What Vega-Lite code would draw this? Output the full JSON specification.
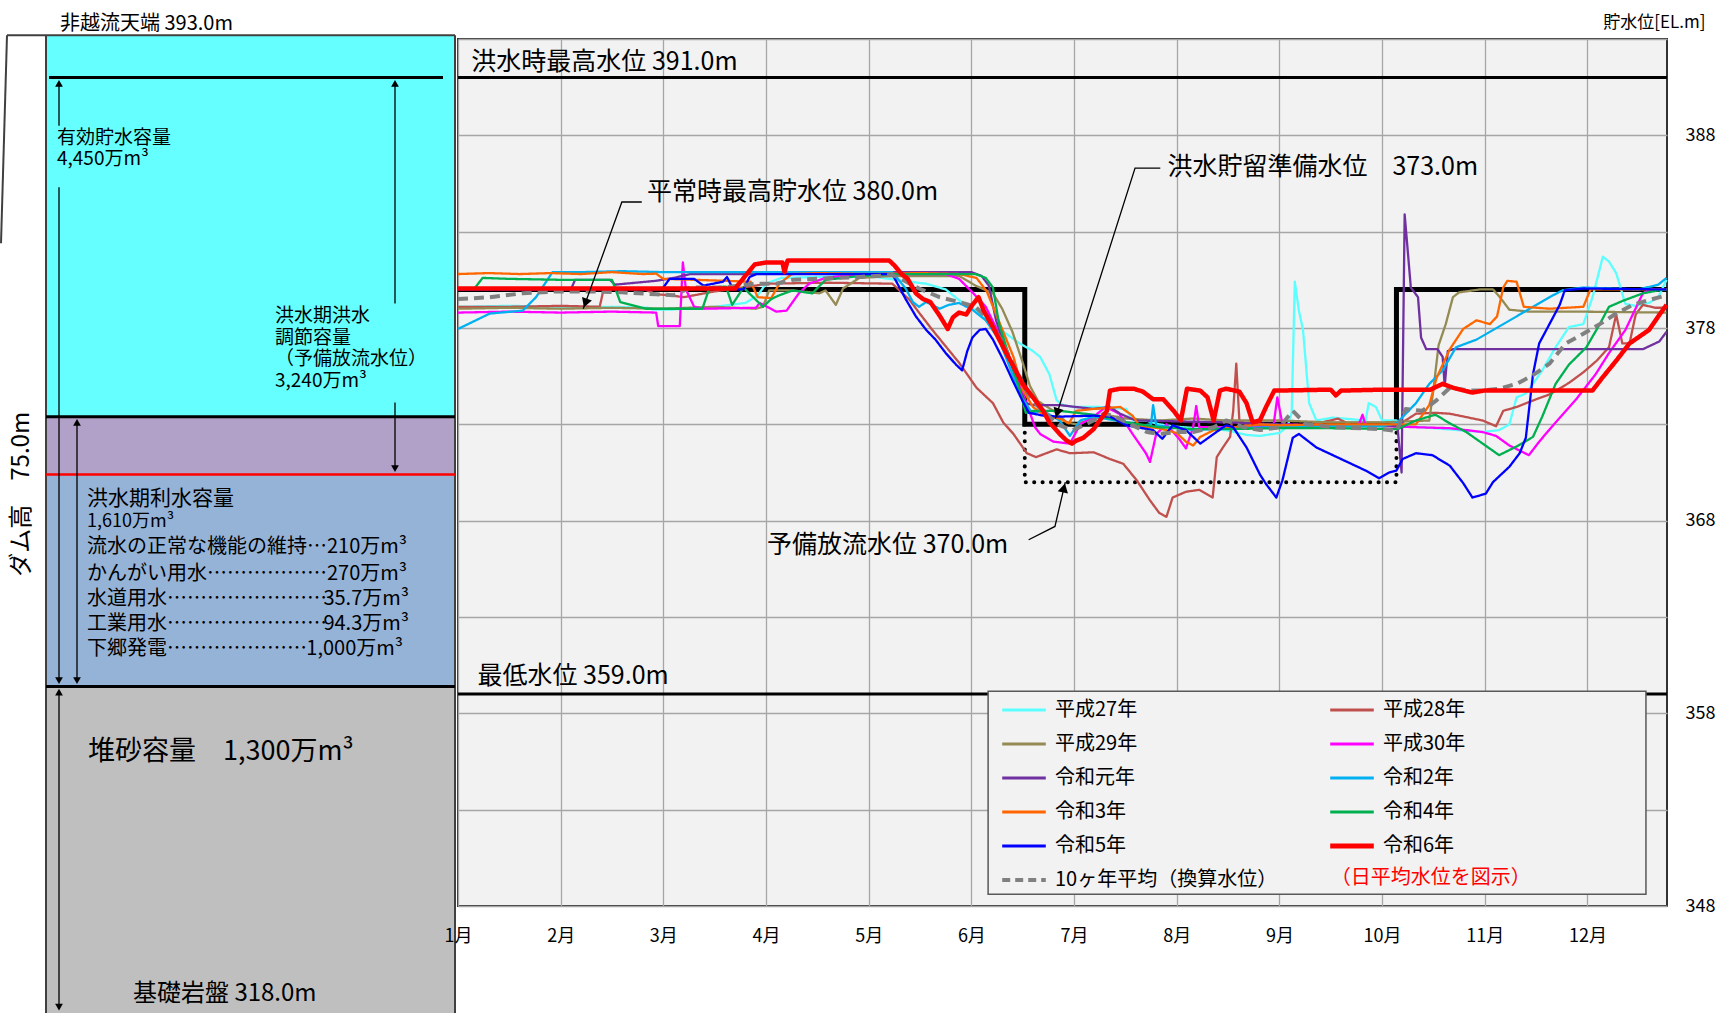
{
 "$schema": "https://vega.github.io/schema/vega-lite/v6.json",
 "background": "white",
 "padding": {"left": 0, "top": 12, "right": 0, "bottom": 0},
 "bounds": "flush",
 "spacing": 0,
 "resolve": {"scale": {"color": "independent"}, "legend": {"color": "independent"}},
 "config": {
  "font": "Noto Sans CJK JP",
  "view": {"stroke": null},
  "text": {"font": "Noto Sans CJK JP", "color": "#000000"}
 },
 "datasets": {
  "wl": [
   {"s":"平成27年","m":1,"v":379.1},{"s":"平成27年","m":1.5,"v":379.15},{"s":"平成27年","m":2,"v":379.1},{"s":"平成27年","m":2.5,"v":379.1},{"s":"平成27年","m":2.85,"v":379.05},{"s":"平成27年","m":2.9,"v":378.95},{"s":"平成27年","m":3.05,"v":378.95},{"s":"平成27年","m":3.2,"v":379},{"s":"平成27年","m":3.5,"v":379.1},{"s":"平成27年","m":3.8,"v":379.3},{"s":"平成27年","m":3.92,"v":379.7},{"s":"平成27年","m":4,"v":380.3},{"s":"平成27年","m":4.15,"v":380.6},{"s":"平成27年","m":4.5,"v":380.65},{"s":"平成27年","m":5,"v":380.7},{"s":"平成27年","m":5.4,"v":380.4},{"s":"平成27年","m":5.56,"v":380.3},{"s":"平成27年","m":5.75,"v":380},{"s":"平成27年","m":5.88,"v":379.45},{"s":"平成27年","m":6.08,"v":378.8},{"s":"平成27年","m":6.21,"v":378.2},{"s":"平成27年","m":6.34,"v":377.7},{"s":"平成27年","m":6.47,"v":377.2},{"s":"平成27年","m":6.6,"v":376.8},{"s":"平成27年","m":6.67,"v":376.5},{"s":"平成27年","m":6.76,"v":375.6},{"s":"平成27年","m":6.83,"v":374.25},{"s":"平成27年","m":6.89,"v":374},{"s":"平成27年","m":6.99,"v":373.9},{"s":"平成27年","m":7.25,"v":373.9},{"s":"平成27年","m":7.51,"v":373.8},{"s":"平成27年","m":7.57,"v":373.2},{"s":"平成27年","m":7.7,"v":373.2},{"s":"平成27年","m":7.83,"v":373},{"s":"平成27年","m":7.96,"v":372.9},{"s":"平成27年","m":8.16,"v":372.8},{"s":"平成27年","m":8.48,"v":372.7},{"s":"平成27年","m":8.68,"v":372.45},{"s":"平成27年","m":8.81,"v":372.4},{"s":"平成27年","m":9,"v":372.55},{"s":"平成27年","m":9.08,"v":372.9},{"s":"平成27年","m":9.12,"v":373.6},{"s":"平成27年","m":9.15,"v":380.4},{"s":"平成27年","m":9.19,"v":378.9},{"s":"平成27年","m":9.23,"v":377.9},{"s":"平成27年","m":9.29,"v":374.1},{"s":"平成27年","m":9.36,"v":373.2},{"s":"平成27年","m":9.52,"v":373.35},{"s":"平成27年","m":9.84,"v":373.2},{"s":"平成27年","m":9.87,"v":374.1},{"s":"平成27年","m":9.94,"v":373.9},{"s":"平成27年","m":10,"v":373.2},{"s":"平成27年","m":10.14,"v":373.2},{"s":"平成27年","m":10.23,"v":372.9},{"s":"平成27年","m":10.5,"v":372.8},{"s":"平成27年","m":10.98,"v":372.6},{"s":"平成27年","m":11.14,"v":372.7},{"s":"平成27年","m":11.24,"v":373},{"s":"平成27年","m":11.31,"v":374.4},{"s":"平成27年","m":11.4,"v":374.6},{"s":"平成27年","m":11.47,"v":375.1},{"s":"平成27年","m":11.56,"v":375.8},{"s":"平成27年","m":11.69,"v":377},{"s":"平成27年","m":11.82,"v":378.05},{"s":"平成27年","m":11.96,"v":378.2},{"s":"平成27年","m":12.05,"v":379.6},{"s":"平成27年","m":12.15,"v":381.7},{"s":"平成27年","m":12.21,"v":381.45},{"s":"平成27年","m":12.28,"v":380.85},{"s":"平成27年","m":12.37,"v":379.25},{"s":"平成27年","m":12.47,"v":379.15},{"s":"平成27年","m":12.6,"v":379.3},{"s":"平成27年","m":12.69,"v":379.6},{"s":"平成27年","m":12.77,"v":380.5},

   {"s":"平成28年","m":1,"v":379.1},{"s":"平成28年","m":1.5,"v":379.1},{"s":"平成28年","m":2,"v":379.15},{"s":"平成28年","m":2.38,"v":379.1},{"s":"平成28年","m":2.42,"v":380.05},{"s":"平成28年","m":2.8,"v":380.05},{"s":"平成28年","m":2.93,"v":379.75},{"s":"平成28年","m":3.06,"v":379.7},{"s":"平成28年","m":3.2,"v":379.6},{"s":"平成28年","m":3.5,"v":379.9},{"s":"平成28年","m":3.9,"v":380.2},{"s":"平成28年","m":4,"v":380.3},{"s":"平成28年","m":4.6,"v":380.35},{"s":"平成28年","m":5.23,"v":380.3},{"s":"平成28年","m":5.3,"v":379.95},{"s":"平成28年","m":5.4,"v":379.45},{"s":"平成28年","m":5.49,"v":378.8},{"s":"平成28年","m":5.62,"v":377.9},{"s":"平成28年","m":5.75,"v":377.05},{"s":"平成28年","m":5.88,"v":376.2},{"s":"平成28年","m":6.05,"v":374.9},{"s":"平成28年","m":6.21,"v":374.1},{"s":"平成28年","m":6.31,"v":373.1},{"s":"平成28年","m":6.41,"v":372.5},{"s":"平成28年","m":6.54,"v":371.5},{"s":"平成28年","m":6.63,"v":371.3},{"s":"平成28年","m":6.73,"v":371.5},{"s":"平成28年","m":6.83,"v":371.7},{"s":"平成28年","m":6.96,"v":371.5},{"s":"平成28年","m":7.19,"v":371.55},{"s":"平成28年","m":7.35,"v":371.2},{"s":"平成28年","m":7.48,"v":370.95},{"s":"平成28年","m":7.61,"v":370.1},{"s":"平成28年","m":7.74,"v":369.05},{"s":"平成28年","m":7.83,"v":368.4},{"s":"平成28年","m":7.9,"v":368.2},{"s":"平成28年","m":7.96,"v":369.2},{"s":"平成28年","m":8.09,"v":369.5},{"s":"平成28年","m":8.22,"v":369.6},{"s":"平成28年","m":8.35,"v":369.2},{"s":"平成28年","m":8.39,"v":371.3},{"s":"平成28年","m":8.45,"v":371.8},{"s":"平成28年","m":8.52,"v":372.35},{"s":"平成28年","m":8.55,"v":373.7},{"s":"平成28年","m":8.58,"v":376.15},{"s":"平成28年","m":8.61,"v":373.2},{"s":"平成28年","m":8.68,"v":372.95},{"s":"平成28年","m":9,"v":372.9},{"s":"平成28年","m":9.3,"v":372.95},{"s":"平成28年","m":9.57,"v":373.3},{"s":"平成28年","m":9.7,"v":372.95},{"s":"平成28年","m":10.14,"v":372.9},{"s":"平成28年","m":10.33,"v":373.55},{"s":"平成28年","m":10.52,"v":373.6},{"s":"平成28年","m":10.66,"v":373.55},{"s":"平成28年","m":10.98,"v":373.2},{"s":"平成28年","m":11.11,"v":372.9},{"s":"平成28年","m":11.18,"v":373.7},{"s":"平成28年","m":11.31,"v":373.9},{"s":"平成28年","m":11.5,"v":374.3},{"s":"平成28年","m":11.63,"v":374.55},{"s":"平成28年","m":11.82,"v":375.15},{"s":"平成28年","m":11.96,"v":375.7},{"s":"平成28年","m":12.09,"v":376.3},{"s":"平成28年","m":12.21,"v":377},{"s":"平成28年","m":12.28,"v":378.7},{"s":"平成28年","m":12.34,"v":377.2},{"s":"平成28年","m":12.41,"v":377.2},{"s":"平成28年","m":12.47,"v":378.7},{"s":"平成28年","m":12.54,"v":379.2},{"s":"平成28年","m":12.66,"v":379.05},{"s":"平成28年","m":12.77,"v":379.05},

   {"s":"平成29年","m":1,"v":379},{"s":"平成29年","m":1.5,"v":379.05},{"s":"平成29年","m":2,"v":379},{"s":"平成29年","m":2.5,"v":379.05},{"s":"平成29年","m":3,"v":379},{"s":"平成29年","m":3.5,"v":379.1},{"s":"平成29年","m":3.9,"v":379},{"s":"平成29年","m":3.97,"v":379.1},{"s":"平成29年","m":4.03,"v":379.95},{"s":"平成29年","m":4.26,"v":379.95},{"s":"平成29年","m":4.52,"v":379.8},{"s":"平成29年","m":4.58,"v":379.95},{"s":"平成29年","m":4.68,"v":379.2},{"s":"平成29年","m":4.75,"v":380.05},{"s":"平成29年","m":4.91,"v":380.6},{"s":"平成29年","m":5.23,"v":380.7},{"s":"平成29年","m":5.88,"v":380.7},{"s":"平成29年","m":6.04,"v":380.2},{"s":"平成29年","m":6.21,"v":379.8},{"s":"平成29年","m":6.3,"v":379},{"s":"平成29年","m":6.4,"v":377.8},{"s":"平成29年","m":6.5,"v":376.2},{"s":"平成29年","m":6.57,"v":375},{"s":"平成29年","m":6.65,"v":374.2},{"s":"平成29年","m":6.8,"v":373.7},{"s":"平成29年","m":6.93,"v":373.1},{"s":"平成29年","m":7.02,"v":373},{"s":"平成29年","m":7.19,"v":373.3},{"s":"平成29年","m":7.35,"v":373.45},{"s":"平成29年","m":7.51,"v":373.3},{"s":"平成29年","m":7.83,"v":373.2},{"s":"平成29年","m":8.16,"v":373.3},{"s":"平成29年","m":8.48,"v":373.2},{"s":"平成29年","m":9,"v":373.2},{"s":"平成29年","m":9.5,"v":373.1},{"s":"平成29年","m":10,"v":373.1},{"s":"平成29年","m":10.46,"v":373.2},{"s":"平成29年","m":10.5,"v":374.8},{"s":"平成29年","m":10.55,"v":377.1},{"s":"平成29年","m":10.62,"v":378.2},{"s":"平成29年","m":10.69,"v":379.6},{"s":"平成29年","m":10.75,"v":379.85},{"s":"平成29年","m":10.95,"v":380},{"s":"平成29年","m":11.08,"v":380},{"s":"平成29年","m":11.14,"v":379.65},{"s":"平成29年","m":11.24,"v":378.95},{"s":"平成29年","m":11.43,"v":378.85},{"s":"平成29年","m":11.92,"v":378.85},{"s":"平成29年","m":12.77,"v":378.8},

   {"s":"平成30年","m":1,"v":378.8},{"s":"平成30年","m":1.5,"v":378.85},{"s":"平成30年","m":2,"v":378.8},{"s":"平成30年","m":2.5,"v":378.85},{"s":"平成30年","m":2.93,"v":378.8},{"s":"平成30年","m":2.95,"v":378.1},{"s":"平成30年","m":3.16,"v":378.1},{"s":"平成30年","m":3.19,"v":381.4},{"s":"平成30年","m":3.22,"v":380},{"s":"平成30年","m":3.3,"v":379.1},{"s":"平成30年","m":3.4,"v":379},{"s":"平成30年","m":3.9,"v":379.05},{"s":"平成30年","m":3.94,"v":379.3},{"s":"平成30年","m":4.1,"v":378.85},{"s":"平成30年","m":4.2,"v":378.9},{"s":"平成30年","m":4.32,"v":379.8},{"s":"平成30年","m":4.42,"v":380.3},{"s":"平成30年","m":4.58,"v":380.6},{"s":"平成30年","m":4.9,"v":380.8},{"s":"平成30年","m":5.75,"v":380.8},{"s":"平成30年","m":5.88,"v":380.55},{"s":"平成30年","m":6.01,"v":379.85},{"s":"平成30年","m":6.14,"v":379.1},{"s":"平成30年","m":6.27,"v":377.7},{"s":"平成30年","m":6.4,"v":376},{"s":"平成30年","m":6.53,"v":374.2},{"s":"平成30年","m":6.62,"v":372.85},{"s":"平成30年","m":6.67,"v":372.5},{"s":"平成30年","m":6.8,"v":372.1},{"s":"平成30年","m":6.96,"v":372},{"s":"平成30年","m":7.06,"v":373},{"s":"平成30年","m":7.19,"v":373.4},{"s":"平成30年","m":7.31,"v":373.9},{"s":"平成30年","m":7.44,"v":373.55},{"s":"平成30年","m":7.57,"v":372.5},{"s":"平成30年","m":7.7,"v":371.5},{"s":"平成30年","m":7.74,"v":371.05},{"s":"平成30年","m":7.8,"v":372.5},{"s":"平成30年","m":7.9,"v":373},{"s":"平成30年","m":8.03,"v":372.2},{"s":"平成30年","m":8.09,"v":371.75},{"s":"平成30年","m":8.16,"v":372.85},{"s":"平成30年","m":8.19,"v":373.95},{"s":"平成30年","m":8.22,"v":372.85},{"s":"平成30年","m":8.48,"v":372.85},{"s":"平成30年","m":8.94,"v":372.85},{"s":"平成30年","m":8.98,"v":374.4},{"s":"平成30年","m":9.03,"v":373},{"s":"平成30年","m":9.36,"v":372.95},{"s":"平成30年","m":9.77,"v":372.95},{"s":"平成30年","m":9.81,"v":373.5},{"s":"平成30年","m":9.84,"v":372.95},{"s":"平成30年","m":10.33,"v":372.85},{"s":"平成30年","m":10.66,"v":372.8},{"s":"平成30年","m":10.98,"v":372.6},{"s":"平成30年","m":11.11,"v":372.4},{"s":"平成30年","m":11.24,"v":371.9},{"s":"平成30年","m":11.43,"v":371.4},{"s":"平成30年","m":11.53,"v":372.1},{"s":"平成30年","m":11.69,"v":373.1},{"s":"平成30年","m":11.89,"v":374.3},{"s":"平成30年","m":12.08,"v":375.6},{"s":"平成30年","m":12.21,"v":376.7},{"s":"平成30年","m":12.37,"v":377.9},{"s":"平成30年","m":12.54,"v":379.8},{"s":"平成30年","m":12.6,"v":380},{"s":"平成30年","m":12.77,"v":380},

   {"s":"令和元年","m":1,"v":380},{"s":"令和元年","m":2.1,"v":380},{"s":"令和元年","m":2.14,"v":380.5},{"s":"令和元年","m":2.48,"v":380.5},{"s":"令和元年","m":2.53,"v":380.25},{"s":"令和元年","m":2.93,"v":380.45},{"s":"令和元年","m":3.1,"v":380.6},{"s":"令和元年","m":3.26,"v":380.8},{"s":"令和元年","m":3.85,"v":380.8},{"s":"令和元年","m":4.1,"v":380.9},{"s":"令和元年","m":5,"v":380.9},{"s":"令和元年","m":6,"v":380.9},{"s":"令和元年","m":6.1,"v":380.7},{"s":"令和元年","m":6.17,"v":380.2},{"s":"令和元年","m":6.24,"v":378.4},{"s":"令和元年","m":6.37,"v":376.4},{"s":"令和元年","m":6.47,"v":374.8},{"s":"令和元年","m":6.53,"v":374.1},{"s":"令和元年","m":6.6,"v":374},{"s":"令和元年","m":6.86,"v":374},{"s":"令和元年","m":7.02,"v":373.9},{"s":"令和元年","m":7.19,"v":373.8},{"s":"令和元年","m":7.35,"v":373.9},{"s":"令和元年","m":7.45,"v":373.55},{"s":"令和元年","m":7.6,"v":373.2},{"s":"令和元年","m":8.5,"v":373.1},{"s":"令和元年","m":9,"v":373},{"s":"令和元年","m":9.5,"v":372.9},{"s":"令和元年","m":10,"v":372.95},{"s":"令和元年","m":10.15,"v":372.9},{"s":"令和元年","m":10.19,"v":370.5},{"s":"令和元年","m":10.22,"v":383.9},{"s":"令和元年","m":10.28,"v":380.1},{"s":"令和元年","m":10.35,"v":379.6},{"s":"令和元年","m":10.38,"v":377.5},{"s":"令和元年","m":10.43,"v":376.9},{"s":"令和元年","m":10.54,"v":376.9},{"s":"令和元年","m":10.59,"v":376.5},{"s":"令和元年","m":10.61,"v":375},{"s":"令和元年","m":10.64,"v":376.8},{"s":"令和元年","m":10.69,"v":376.9},{"s":"令和元年","m":12.54,"v":376.9},{"s":"令和元年","m":12.7,"v":377.3},{"s":"令和元年","m":12.77,"v":377.8},

   {"s":"令和2年","m":1,"v":377.95},{"s":"令和2年","m":1.31,"v":378.75},{"s":"令和2年","m":1.63,"v":378.9},{"s":"令和2年","m":1.76,"v":379.6},{"s":"令和2年","m":1.92,"v":380.9},{"s":"令和2年","m":2.2,"v":380.9},{"s":"令和2年","m":2.6,"v":380.95},{"s":"令和2年","m":3,"v":380.9},{"s":"令和2年","m":3.5,"v":380.9},{"s":"令和2年","m":4,"v":380.9},{"s":"令和2年","m":5,"v":380.9},{"s":"令和2年","m":5.23,"v":380.9},{"s":"令和2年","m":5.36,"v":380.05},{"s":"令和2年","m":5.43,"v":379.35},{"s":"令和2年","m":5.49,"v":379.1},{"s":"令和2年","m":5.56,"v":379.35},{"s":"令和2年","m":5.69,"v":379},{"s":"令和2年","m":5.78,"v":379.2},{"s":"令和2年","m":5.88,"v":379.3},{"s":"令和2年","m":6.01,"v":378.95},{"s":"令和2年","m":6.14,"v":378.4},{"s":"令和2年","m":6.27,"v":377.4},{"s":"令和2年","m":6.4,"v":375.6},{"s":"令和2年","m":6.49,"v":374.4},{"s":"令和2年","m":6.59,"v":373.6},{"s":"令和2年","m":6.7,"v":373.7},{"s":"令和2年","m":6.86,"v":373.2},{"s":"令和2年","m":6.96,"v":372.4},{"s":"令和2年","m":7.06,"v":373.2},{"s":"令和2年","m":7.19,"v":373.4},{"s":"令和2年","m":7.51,"v":373.1},{"s":"令和2年","m":7.67,"v":372.95},{"s":"令和2年","m":7.75,"v":373},{"s":"令和2年","m":7.77,"v":374},{"s":"令和2年","m":7.8,"v":372.95},{"s":"令和2年","m":8.16,"v":372.7},{"s":"令和2年","m":8.48,"v":372.8},{"s":"令和2年","m":9,"v":372.85},{"s":"令和2年","m":9.5,"v":372.9},{"s":"令和2年","m":10,"v":372.9},{"s":"令和2年","m":10.14,"v":373.05},{"s":"令和2年","m":10.24,"v":373.6},{"s":"令和2年","m":10.33,"v":374.1},{"s":"令和2年","m":10.46,"v":375.1},{"s":"令和2年","m":10.59,"v":375.8},{"s":"令和2年","m":10.72,"v":377},{"s":"令和2年","m":10.92,"v":377.4},{"s":"令和2年","m":11.05,"v":377.8},{"s":"令和2年","m":11.18,"v":378.2},{"s":"令和2年","m":11.31,"v":378.6},{"s":"令和2年","m":11.47,"v":379.1},{"s":"令和2年","m":11.63,"v":379.6},{"s":"令和2年","m":11.76,"v":379.96},{"s":"令和2年","m":11.96,"v":380.1},{"s":"令和2年","m":12.5,"v":380},{"s":"令和2年","m":12.69,"v":380.25},{"s":"令和2年","m":12.77,"v":380.6},

   {"s":"令和3年","m":1,"v":380.8},{"s":"令和3年","m":1.3,"v":380.85},{"s":"令和3年","m":1.6,"v":380.8},{"s":"令和3年","m":1.9,"v":380.85},{"s":"令和3年","m":2.2,"v":380.8},{"s":"令和3年","m":2.5,"v":380.9},{"s":"令和3年","m":2.8,"v":380.8},{"s":"令和3年","m":2.93,"v":380.82},{"s":"令和3年","m":3,"v":380.55},{"s":"令和3年","m":3.3,"v":380.5},{"s":"令和3年","m":3.6,"v":380.45},{"s":"令和3年","m":3.85,"v":380.4},{"s":"令和3年","m":3.92,"v":379.6},{"s":"令和3年","m":4.05,"v":379.55},{"s":"令和3年","m":4.13,"v":380.3},{"s":"令和3年","m":4.25,"v":380.8},{"s":"令和3年","m":4.5,"v":380.85},{"s":"令和3年","m":5,"v":380.8},{"s":"令和3年","m":5.5,"v":380.85},{"s":"令和3年","m":5.88,"v":380.8},{"s":"令和3年","m":6.05,"v":380.6},{"s":"令和3年","m":6.15,"v":379.9},{"s":"令和3年","m":6.28,"v":378.2},{"s":"令和3年","m":6.41,"v":376.5},{"s":"令和3年","m":6.5,"v":374.8},{"s":"令和3年","m":6.6,"v":373.9},{"s":"令和3年","m":6.7,"v":373.5},{"s":"令和3年","m":6.86,"v":373.3},{"s":"令和3年","m":6.95,"v":373.05},{"s":"令和3年","m":7.02,"v":373.7},{"s":"令和3年","m":7.19,"v":373.8},{"s":"令和3年","m":7.45,"v":373.9},{"s":"令和3年","m":7.57,"v":373.45},{"s":"令和3年","m":7.64,"v":372.9},{"s":"令和3年","m":7.83,"v":372.8},{"s":"令和3年","m":8,"v":372.55},{"s":"令和3年","m":8.09,"v":372.1},{"s":"令和3年","m":8.16,"v":371.9},{"s":"令和3年","m":8.23,"v":372.35},{"s":"令和3年","m":8.36,"v":372.7},{"s":"令和3年","m":8.48,"v":372.8},{"s":"令和3年","m":8.81,"v":373},{"s":"令和3年","m":9,"v":372.95},{"s":"令和3年","m":9.5,"v":373},{"s":"令和3年","m":10,"v":373},{"s":"令和3年","m":10.33,"v":373},{"s":"令和3年","m":10.46,"v":374},{"s":"令和3年","m":10.53,"v":375.4},{"s":"令和3年","m":10.66,"v":376.9},{"s":"令和3年","m":10.79,"v":377.95},{"s":"令和3年","m":10.92,"v":378.4},{"s":"令和3年","m":11.05,"v":378.2},{"s":"令和3年","m":11.12,"v":378.6},{"s":"令和3年","m":11.18,"v":380.1},{"s":"令和3年","m":11.22,"v":380.45},{"s":"令和3年","m":11.31,"v":380.4},{"s":"令和3年","m":11.38,"v":379.1},{"s":"令和3年","m":11.63,"v":379},{"s":"令和3年","m":11.96,"v":379.1},{"s":"令和3年","m":12.03,"v":380},{"s":"令和3年","m":12.77,"v":380},

   {"s":"令和4年","m":1,"v":380.05},{"s":"令和4年","m":1.16,"v":380.05},{"s":"令和4年","m":1.24,"v":380.6},{"s":"令和4年","m":1.5,"v":380.55},{"s":"令和4年","m":2,"v":380.5},{"s":"令和4年","m":2.5,"v":380.5},{"s":"令和4年","m":2.58,"v":379.35},{"s":"令和4年","m":2.83,"v":379},{"s":"令和4年","m":3.38,"v":379},{"s":"令和4年","m":3.45,"v":380.1},{"s":"令和4年","m":3.61,"v":380.15},{"s":"令和4年","m":3.67,"v":379.2},{"s":"令和4年","m":3.78,"v":380.1},{"s":"令和4年","m":3.97,"v":379.1},{"s":"令和4年","m":4.05,"v":379.5},{"s":"令和4年","m":4.13,"v":379.7},{"s":"令和4年","m":4.26,"v":379.95},{"s":"令和4年","m":4.45,"v":379.8},{"s":"令和4年","m":4.58,"v":380.5},{"s":"令和4年","m":4.91,"v":380.7},{"s":"令和4年","m":5.23,"v":380.8},{"s":"令和4年","m":6.04,"v":380.8},{"s":"令和4年","m":6.14,"v":380.6},{"s":"令和4年","m":6.21,"v":380.1},{"s":"令和4年","m":6.27,"v":378.2},{"s":"令和4年","m":6.37,"v":376.5},{"s":"令和4年","m":6.47,"v":374.8},{"s":"令和4年","m":6.53,"v":373.6},{"s":"令和4年","m":6.6,"v":373.7},{"s":"令和4年","m":6.86,"v":373.7},{"s":"令和4年","m":7.19,"v":373.5},{"s":"令和4年","m":7.51,"v":373.1},{"s":"令和4年","m":7.83,"v":372.85},{"s":"令和4年","m":8.16,"v":372.75},{"s":"令和4年","m":8.48,"v":372.75},{"s":"令和4年","m":9,"v":372.8},{"s":"令和4年","m":9.5,"v":372.8},{"s":"令和4年","m":10.15,"v":372.75},{"s":"令和4年","m":10.33,"v":373.2},{"s":"令和4年","m":10.52,"v":373.5},{"s":"令和4年","m":10.66,"v":373.05},{"s":"令和4年","m":10.82,"v":372.6},{"s":"令和4年","m":10.98,"v":372},{"s":"令和4年","m":11.14,"v":371.4},{"s":"令和4年","m":11.31,"v":371.85},{"s":"令和4年","m":11.47,"v":372.35},{"s":"令和4年","m":11.56,"v":373.4},{"s":"令和4年","m":11.69,"v":375.1},{"s":"令和4年","m":11.82,"v":376.1},{"s":"令和4年","m":11.99,"v":377},{"s":"令和4年","m":12.12,"v":378.2},{"s":"令和4年","m":12.21,"v":379.1},{"s":"令和4年","m":12.34,"v":379.4},{"s":"令和4年","m":12.54,"v":379.8},{"s":"令和4年","m":12.7,"v":379.96},{"s":"令和4年","m":12.77,"v":380},

   {"s":"令和5年","m":1,"v":380},{"s":"令和5年","m":2.95,"v":380},{"s":"令和5年","m":3,"v":380.1},{"s":"令和5年","m":3.06,"v":380.55},{"s":"令和5年","m":3.3,"v":380.55},{"s":"令和5年","m":3.39,"v":380.2},{"s":"令和5年","m":3.58,"v":380.4},{"s":"令和5年","m":3.62,"v":380.65},{"s":"令和5年","m":3.68,"v":380},{"s":"令和5年","m":3.78,"v":380},{"s":"令和5年","m":3.84,"v":380.65},{"s":"令和5年","m":3.91,"v":380.8},{"s":"令和5年","m":4.5,"v":380.8},{"s":"令和5年","m":5.23,"v":380.8},{"s":"令和5年","m":5.3,"v":380.1},{"s":"令和5年","m":5.36,"v":379.5},{"s":"令和5年","m":5.46,"v":378.6},{"s":"令和5年","m":5.56,"v":377.9},{"s":"令和5年","m":5.65,"v":377.4},{"s":"令和5年","m":5.75,"v":376.7},{"s":"令和5年","m":5.85,"v":376.1},{"s":"令和5年","m":5.91,"v":375.8},{"s":"令和5年","m":5.96,"v":376.8},{"s":"令和5年","m":6.01,"v":377.5},{"s":"令和5年","m":6.08,"v":377.9},{"s":"令和5年","m":6.14,"v":377.95},{"s":"令和5年","m":6.21,"v":377.4},{"s":"令和5年","m":6.31,"v":376.35},{"s":"令和5年","m":6.4,"v":375.3},{"s":"令和5年","m":6.5,"v":374.2},{"s":"令和5年","m":6.56,"v":373.6},{"s":"令和5年","m":6.7,"v":373.45},{"s":"令和5年","m":6.86,"v":373.4},{"s":"令和5年","m":7.19,"v":373.45},{"s":"令和5年","m":7.35,"v":373.4},{"s":"令和5年","m":7.51,"v":372.95},{"s":"令和5年","m":7.77,"v":372.7},{"s":"令和5年","m":7.86,"v":372.25},{"s":"令和5年","m":7.96,"v":372.95},{"s":"令和5年","m":8.09,"v":372.7},{"s":"令和5年","m":8.23,"v":372},{"s":"令和5年","m":8.36,"v":372.5},{"s":"令和5年","m":8.48,"v":372.95},{"s":"令和5年","m":8.55,"v":372.85},{"s":"令和5年","m":8.68,"v":371.8},{"s":"令和5年","m":8.81,"v":370.4},{"s":"令和5年","m":8.87,"v":369.9},{"s":"令和5年","m":8.97,"v":369.2},{"s":"令和5年","m":9.03,"v":370.1},{"s":"令和5年","m":9.13,"v":372.3},{"s":"令和5年","m":9.19,"v":372.5},{"s":"令和5年","m":9.36,"v":371.8},{"s":"令和5年","m":9.52,"v":371.4},{"s":"令和5年","m":9.68,"v":371},{"s":"令和5年","m":9.84,"v":370.6},{"s":"令和5年","m":9.97,"v":370.2},{"s":"令和5年","m":10.07,"v":370.5},{"s":"令和5年","m":10.14,"v":370.6},{"s":"令和5年","m":10.2,"v":371.2},{"s":"令和5年","m":10.33,"v":371.5},{"s":"令和5年","m":10.49,"v":371.4},{"s":"令和5年","m":10.66,"v":370.85},{"s":"令和5年","m":10.79,"v":369.95},{"s":"令和5年","m":10.88,"v":369.2},{"s":"令和5年","m":11.01,"v":369.4},{"s":"令和5年","m":11.08,"v":370},{"s":"令和5年","m":11.24,"v":370.8},{"s":"令和5年","m":11.34,"v":371.5},{"s":"令和5年","m":11.4,"v":372.3},{"s":"令和5年","m":11.47,"v":375.6},{"s":"令和5年","m":11.53,"v":377.2},{"s":"令和5年","m":11.63,"v":378.2},{"s":"令和5年","m":11.73,"v":379.2},{"s":"令和5年","m":11.78,"v":379.96},{"s":"令和5年","m":11.96,"v":380.05},{"s":"令和5年","m":12.77,"v":380},

   {"s":"10ヶ年平均（換算水位）","m":1,"v":379.5},{"s":"10ヶ年平均（換算水位）","m":1.31,"v":379.6},{"s":"10ヶ年平均（換算水位）","m":1.63,"v":379.8},{"s":"10ヶ年平均（換算水位）","m":1.96,"v":379.9},{"s":"10ヶ年平均（換算水位）","m":2.3,"v":379.9},{"s":"10ヶ年平均（換算水位）","m":2.6,"v":379.85},{"s":"10ヶ年平均（換算水位）","m":2.93,"v":379.75},{"s":"10ヶ年平均（換算水位）","m":3.1,"v":379.7},{"s":"10ヶ年平均（換算水位）","m":3.26,"v":380.1},{"s":"10ヶ年平均（換算水位）","m":3.58,"v":380.1},{"s":"10ヶ年平均（換算水位）","m":3.9,"v":380.3},{"s":"10ヶ年平均（換算水位）","m":4.1,"v":380.3},{"s":"10ヶ年平均（換算水位）","m":4.26,"v":380.5},{"s":"10ヶ年平均（換算水位）","m":4.91,"v":380.65},{"s":"10ヶ年平均（換算水位）","m":5.23,"v":380.75},{"s":"10ヶ年平均（換算水位）","m":5.33,"v":380.5},{"s":"10ヶ年平均（換算水位）","m":5.49,"v":380.05},{"s":"10ヶ年平均（換算水位）","m":5.69,"v":379.6},{"s":"10ヶ年平均（換算水位）","m":5.88,"v":379.35},{"s":"10ヶ年平均（換算水位）","m":6.04,"v":379.1},{"s":"10ヶ年平均（換算水位）","m":6.17,"v":378.4},{"s":"10ヶ年平均（換算水位）","m":6.27,"v":377.55},{"s":"10ヶ年平均（換算水位）","m":6.4,"v":376.2},{"s":"10ヶ年平均（換算水位）","m":6.53,"v":374.8},{"s":"10ヶ年平均（換算水位）","m":6.62,"v":374.1},{"s":"10ヶ年平均（換算水位）","m":6.7,"v":373.65},{"s":"10ヶ年平均（換算水位）","m":6.86,"v":372.95},{"s":"10ヶ年平均（換算水位）","m":6.99,"v":372.7},{"s":"10ヶ年平均（換算水位）","m":7.19,"v":373.2},{"s":"10ヶ年平均（換算水位）","m":7.29,"v":373.55},{"s":"10ヶ年平均（換算水位）","m":7.38,"v":373.45},{"s":"10ヶ年平均（換算水位）","m":7.51,"v":373.1},{"s":"10ヶ年平均（換算水位）","m":7.71,"v":372.6},{"s":"10ヶ年平均（換算水位）","m":7.83,"v":372.5},{"s":"10ヶ年平均（換算水位）","m":8,"v":372.6},{"s":"10ヶ年平均（換算水位）","m":8.16,"v":372.6},{"s":"10ヶ年平均（換算水位）","m":8.36,"v":372.85},{"s":"10ヶ年平均（換算水位）","m":8.48,"v":373.2},{"s":"10ヶ年平均（換算水位）","m":8.65,"v":372.85},{"s":"10ヶ年平均（換算水位）","m":8.81,"v":372.7},{"s":"10ヶ年平均（換算水位）","m":9,"v":372.85},{"s":"10ヶ年平均（換算水位）","m":9.13,"v":373.7},{"s":"10ヶ年平均（換算水位）","m":9.26,"v":373},{"s":"10ヶ年平均（換算水位）","m":9.52,"v":372.85},{"s":"10ヶ年平均（換算水位）","m":10,"v":372.75},{"s":"10ヶ年平均（換算水位）","m":10.14,"v":372.65},{"s":"10ヶ年平均（換算水位）","m":10.23,"v":373.8},{"s":"10ヶ年平均（換算水位）","m":10.39,"v":373.7},{"s":"10ヶ年平均（換算水位）","m":10.52,"v":374.2},{"s":"10ヶ年平均（換算水位）","m":10.66,"v":374.9},{"s":"10ヶ年平均（換算水位）","m":10.85,"v":374.75},{"s":"10ヶ年平均（換算水位）","m":10.98,"v":374.75},{"s":"10ヶ年平均（換算水位）","m":11.14,"v":374.85},{"s":"10ヶ年平均（換算水位）","m":11.31,"v":375.1},{"s":"10ヶ年平均（換算水位）","m":11.47,"v":375.55},{"s":"10ヶ年平均（換算水位）","m":11.63,"v":376.15},{"s":"10ヶ年平均（換算水位）","m":11.79,"v":377.2},{"s":"10ヶ年平均（換算水位）","m":11.96,"v":377.7},{"s":"10ヶ年平均（換算水位）","m":12.12,"v":378.2},{"s":"10ヶ年平均（換算水位）","m":12.28,"v":378.75},{"s":"10ヶ年平均（換算水位）","m":12.44,"v":379.2},{"s":"10ヶ年平均（換算水位）","m":12.6,"v":379.45},{"s":"10ヶ年平均（換算水位）","m":12.77,"v":379.7},

   {"s":"令和6年","m":1,"v":380.05},{"s":"令和6年","m":3.7,"v":380.05},{"s":"令和6年","m":3.79,"v":380.65},{"s":"令和6年","m":3.89,"v":381.3},{"s":"令和6年","m":4,"v":381.4},{"s":"令和6年","m":4.16,"v":381.4},{"s":"令和6年","m":4.18,"v":380.9},{"s":"令和6年","m":4.21,"v":381.5},{"s":"令和6年","m":4.6,"v":381.5},{"s":"令和6年","m":5,"v":381.5},{"s":"令和6年","m":5.2,"v":381.5},{"s":"令和6年","m":5.25,"v":381.25},{"s":"令和6年","m":5.32,"v":380.8},{"s":"令和6年","m":5.38,"v":380.55},{"s":"令和6年","m":5.46,"v":379.8},{"s":"令和6年","m":5.53,"v":379.5},{"s":"令和6年","m":5.6,"v":379.35},{"s":"令和6年","m":5.69,"v":378.65},{"s":"令和6年","m":5.77,"v":377.95},{"s":"令和6年","m":5.82,"v":378.55},{"s":"令和6年","m":5.88,"v":378.8},{"s":"令和6年","m":5.95,"v":378.7},{"s":"令和6年","m":6.01,"v":379.2},{"s":"令和6年","m":6.07,"v":379.6},{"s":"令和6年","m":6.12,"v":378.9},{"s":"令和6年","m":6.21,"v":378.05},{"s":"令和6年","m":6.31,"v":377},{"s":"令和6年","m":6.41,"v":376},{"s":"令和6年","m":6.5,"v":375.1},{"s":"令和6年","m":6.6,"v":374.4},{"s":"令和6年","m":6.7,"v":373.7},{"s":"令和6年","m":6.76,"v":373.1},{"s":"令和6年","m":6.86,"v":372.5},{"s":"令和6年","m":6.93,"v":372.15},{"s":"令和6年","m":6.98,"v":372},{"s":"令和6年","m":7.02,"v":372.15},{"s":"令和6年","m":7.09,"v":372.3},{"s":"令和6年","m":7.19,"v":372.75},{"s":"令和6年","m":7.25,"v":373.2},{"s":"令和6年","m":7.32,"v":373.7},{"s":"令和6年","m":7.35,"v":374.75},{"s":"令和6年","m":7.45,"v":374.85},{"s":"令和6年","m":7.58,"v":374.85},{"s":"令和6年","m":7.67,"v":374.7},{"s":"令和6年","m":7.77,"v":374.3},{"s":"令和6年","m":7.87,"v":374.3},{"s":"令和6年","m":7.97,"v":373.7},{"s":"令和6年","m":8.04,"v":373.2},{"s":"令和6年","m":8.1,"v":374.85},{"s":"令和6年","m":8.23,"v":374.75},{"s":"令和6年","m":8.3,"v":374.4},{"s":"令和6年","m":8.36,"v":373.2},{"s":"令和6年","m":8.42,"v":374.75},{"s":"令和6年","m":8.48,"v":374.85},{"s":"令和6年","m":8.61,"v":374.7},{"s":"令和6年","m":8.68,"v":374.1},{"s":"令和6年","m":8.74,"v":373.1},{"s":"令和6年","m":8.81,"v":373.2},{"s":"令和6年","m":8.87,"v":373.9},{"s":"令和6年","m":8.95,"v":374.75},{"s":"令和6年","m":9.5,"v":374.8},{"s":"令和6年","m":9.55,"v":374.5},{"s":"令和6年","m":9.6,"v":374.75},{"s":"令和6年","m":10,"v":374.8},{"s":"令和6年","m":10.47,"v":374.8},{"s":"令和6年","m":10.59,"v":375.1},{"s":"令和6年","m":10.69,"v":374.9},{"s":"令和6年","m":10.79,"v":374.76},{"s":"令和6年","m":10.88,"v":374.65},{"s":"令和6年","m":11,"v":374.76},{"s":"令和6年","m":12.05,"v":374.76},{"s":"令和6年","m":12.15,"v":375.45},{"s":"令和6年","m":12.28,"v":376.3},{"s":"令和6年","m":12.41,"v":377.2},{"s":"令和6年","m":12.6,"v":377.9},{"s":"令和6年","m":12.69,"v":378.6},{"s":"令和6年","m":12.77,"v":379.2}
  ]
 },
 "hconcat": [
  {
   "width": 458,
   "height": 974,
   "encoding": {
    "x": {"field": "x", "type": "quantitative", "scale": {"domain": [0, 458], "nice": false, "zero": false}, "axis": null},
    "y": {"field": "v", "type": "quantitative", "scale": {"domain": [342.45, 393], "nice": false, "zero": false}, "axis": null}
   },
   "layer": [
    {
     "data": {"values": [
      {"zone": "有効貯水容量", "x": 46, "x2": 455, "v": 393.19, "v2": 373.4},
      {"zone": "洪水期洪水調節容量", "x": 46, "x2": 455, "v": 373.4, "v2": 370.4},
      {"zone": "洪水期利水容量", "x": 46, "x2": 455, "v": 370.4, "v2": 359.4},
      {"zone": "堆砂容量", "x": 46, "x2": 455, "v": 359.4, "v2": 342.45}
     ]},
     "mark": {"type": "rect"},
     "encoding": {
      "x2": {"field": "x2"},
      "y2": {"field": "v2"},
      "color": {"field": "zone", "type": "nominal", "scale": {"domain": ["有効貯水容量", "洪水期洪水調節容量", "洪水期利水容量", "堆砂容量"], "range": ["#66FFFF", "#B1A0C7", "#95B3D7", "#BFBFBF"]}, "legend": null}
     }
    },
    {
     "data": {"values": [
      {"x": 7, "x2": 455, "v": 393.19, "v2": 393.19},
      {"x": 46, "x2": 46, "v": 393.19, "v2": 342.45},
      {"x": 455, "x2": 455, "v": 393.19, "v2": 342.45},
      {"x": 7, "x2": 1, "v": 393.19, "v2": 382.4}
     ]},
     "mark": {"type": "rule", "color": "#404040", "strokeWidth": 2},
     "encoding": {"x2": {"field": "x2"}, "y2": {"field": "v2"}}
    },
    {
     "data": {"values": [
      {"x": 49, "x2": 443, "v": 391, "v2": 391},
      {"x": 46, "x2": 455, "v": 373.4, "v2": 373.4},
      {"x": 46, "x2": 455, "v": 359.4, "v2": 359.4}
     ]},
     "mark": {"type": "rule", "color": "#000000", "strokeWidth": 3},
     "encoding": {"x2": {"field": "x2"}, "y2": {"field": "v2"}}
    },
    {
     "data": {"values": [{"x": 46, "x2": 455, "v": 370.4, "v2": 370.4}]},
     "mark": {"type": "rule", "color": "#FF0000", "strokeWidth": 2.5},
     "encoding": {"x2": {"field": "x2"}, "y2": {"field": "v2"}}
    },
    {
     "data": {"values": [
      {"x": 59, "x2": 59, "v": 390.7, "v2": 388.5},
      {"x": 59, "x2": 59, "v": 385.3, "v2": 359.7},
      {"x": 395, "x2": 395, "v": 390.7, "v2": 379.27},
      {"x": 395, "x2": 395, "v": 374.14, "v2": 370.7},
      {"x": 77, "x2": 77, "v": 373.1, "v2": 359.7},
      {"x": 59, "x2": 59, "v": 359.1, "v2": 342.75}
     ]},
     "mark": {"type": "rule", "color": "#000000", "strokeWidth": 1.3},
     "encoding": {"x2": {"field": "x2"}, "y2": {"field": "v2"}}
    },
    {
     "data": {"values": [{"x": 59, "v": 390.7}, {"x": 395, "v": 390.7}, {"x": 77, "v": 373.1}, {"x": 59, "v": 359.1}]},
     "mark": {"type": "point", "shape": "triangle-up", "filled": true, "color": "#000000", "size": 60, "opacity": 1}
    },
    {
     "data": {"values": [{"x": 59, "v": 359.7}, {"x": 395, "v": 370.7}, {"x": 77, "v": 359.7}, {"x": 59, "v": 342.75}]},
     "mark": {"type": "point", "shape": "triangle-down", "filled": true, "color": "#000000", "size": 60, "opacity": 1}
    },
    {
     "data": {"values": [{"x": 60, "v": 393.76, "t": "非越流天端 393.0m"}]},
     "mark": {"type": "text", "align": "left", "baseline": "middle", "fontSize": 20},
     "encoding": {"text": {"field": "t"}}
    },
    {
     "data": {"values": [
      {"x": 57, "v": 387.84, "t": "有効貯水容量"},
      {"x": 57, "v": 386.75, "t": "4,450万m³"},
      {"x": 275, "v": 378.6, "t": "洪水期洪水"},
      {"x": 275, "v": 377.47, "t": "調節容量"},
      {"x": 275, "v": 376.38, "t": "（予備放流水位）"},
      {"x": 275, "v": 375.23, "t": "3,240万m³"}
     ]},
     "mark": {"type": "text", "align": "left", "baseline": "middle", "fontSize": 19},
     "encoding": {"text": {"field": "t"}}
    },
    {
     "data": {"values": [{"x": 87, "v": 369.14, "t": "洪水期利水容量"}]},
     "mark": {"type": "text", "align": "left", "baseline": "middle", "fontSize": 21},
     "encoding": {"text": {"field": "t"}}
    },
    {
     "data": {"values": [{"x": 87, "v": 367.92, "t": "1,610万m³"}]},
     "mark": {"type": "text", "align": "left", "baseline": "middle", "fontSize": 18},
     "encoding": {"text": {"field": "t"}}
    },
    {
     "data": {"values": [
      {"x": 87, "v": 366.62, "t": "流水の正常な機能の維持…"},
      {"x": 87, "v": 365.22, "t": "かんがい用水………………"},
      {"x": 87, "v": 363.92, "t": "水道用水……………………"},
      {"x": 87, "v": 362.63, "t": "工業用水……………………"},
      {"x": 87, "v": 361.33, "t": "下郷発電…………………"}
     ]},
     "mark": {"type": "text", "align": "left", "baseline": "middle", "fontSize": 20},
     "encoding": {"text": {"field": "t"}}
    },
    {
     "data": {"values": [
      {"x": 407, "v": 366.62, "t": "210万m³"},
      {"x": 407, "v": 365.22, "t": "270万m³"},
      {"x": 409, "v": 363.92, "t": "35.7万m³"},
      {"x": 409, "v": 362.63, "t": "94.3万m³"},
      {"x": 403, "v": 361.33, "t": "1,000万m³"}
     ]},
     "mark": {"type": "text", "align": "right", "baseline": "middle", "fontSize": 20},
     "encoding": {"text": {"field": "t"}}
    },
    {
     "data": {"values": [{"x": 88, "v": 355.97, "t": "堆砂容量　1,300万m³"}]},
     "mark": {"type": "text", "align": "left", "baseline": "middle", "fontSize": 27},
     "encoding": {"text": {"field": "t"}}
    },
    {
     "data": {"values": [{"x": 133, "v": 343.42, "t": "基礎岩盤 318.0m"}]},
     "mark": {"type": "text", "align": "left", "baseline": "middle", "fontSize": 24},
     "encoding": {"text": {"field": "t"}}
    },
    {
     "data": {"values": [{"x": 22, "v": 369.37, "t": "ダム高　75.0m"}]},
     "mark": {"type": "text", "align": "center", "baseline": "middle", "fontSize": 24, "angle": 270},
     "encoding": {"text": {"field": "t"}}
    }
   ]
  },
  {
   "width": 1209,
   "height": 867,
   "view": {"fill": "#F2F2F2", "stroke": "#333333", "strokeWidth": 2},
   "encoding": {
    "x": {"field": "m", "type": "quantitative", "scale": {"domain": [1, 12.775], "nice": false, "zero": false},
     "axis": {"values": [1,2,3,4,5,6,7,8,9,10,11,12], "labelExpr": "datum.value + '月'", "grid": true, "gridColor": "#A6A6A6", "gridWidth": 1.3, "domain": false, "ticks": false, "tickSize": 0, "labelFontSize": 18, "labelPadding": 21, "labelColor": "#000000", "labelFlush": false, "labelOverlap": false, "title": null}},
    "y": {"field": "v", "type": "quantitative", "scale": {"domain": [348, 393], "nice": false, "zero": false},
     "axis": {"orient": "right", "values": [348,353,358,363,368,373,378,383,388,393], "labelExpr": "(datum.value - 348) % 10 == 0 ? datum.value : ''", "grid": true, "gridColor": "#A6A6A6", "gridWidth": 1.3, "domain": false, "ticks": false, "tickSize": 0, "labelFontSize": 18, "labelPadding": 18, "labelColor": "#000000", "labelFlush": false, "labelOverlap": false,
      "title": "貯水位[EL.m]", "titleAngle": 0, "titleAlign": "right", "titleBaseline": "bottom", "titleX": 38, "titleY": -8, "titleFontSize": 17, "titleFontWeight": "normal", "titleColor": "#000000"}}
   },
   "layer": [
    {
     "data": {"values": [{"m": 1, "m2": 12.775, "v": 391}, {"m": 1, "m2": 12.775, "v": 359}]},
     "mark": {"type": "rule", "color": "#000000", "strokeWidth": 3},
     "encoding": {"x2": {"field": "m2"}}
    },
    {
     "data": {"values": [{"i": 0, "m": 1, "v": 380}, {"i": 1, "m": 6.52, "v": 380}, {"i": 2, "m": 6.52, "v": 373}, {"i": 3, "m": 10.14, "v": 373}, {"i": 4, "m": 10.14, "v": 380}, {"i": 5, "m": 12.775, "v": 380}]},
     "mark": {"type": "line", "color": "#000000", "strokeWidth": 5, "strokeJoin": "miter", "strokeCap": "butt"},
     "encoding": {"order": {"field": "i", "type": "quantitative"}}
    },
    {
     "data": {"values": [{"i": 0, "m": 6.52, "v": 373}, {"i": 1, "m": 6.52, "v": 370}, {"i": 2, "m": 10.14, "v": 370}, {"i": 3, "m": 10.14, "v": 373}]},
     "mark": {"type": "line", "color": "#000000", "strokeWidth": 4, "strokeDash": [0.1, 8.3], "strokeCap": "round"},
     "encoding": {"order": {"field": "i", "type": "quantitative"}}
    },
    {
     "data": {"name": "wl"},
     "transform": [{"filter": "datum.s !== '令和6年' && datum.s !== '10ヶ年平均（換算水位）'"}],
     "mark": {"type": "line", "strokeWidth": 2.3, "strokeJoin": "round"},
     "encoding": {
      "color": {"field": "s", "type": "nominal",
       "scale": {"domain": ["平成27年","平成29年","令和元年","令和3年","令和5年","10ヶ年平均（換算水位）","平成28年","平成30年","令和2年","令和4年","令和6年"], "range": ["#5CFFFF","#948A54","#7030A0","#FF6600","#0000FF","#808080","#C0504D","#FF00FF","#00B0F0","#00B050","#FF0000"]},
       "legend": {"title": null, "orient": "none", "legendX": 556, "legendY": 661, "columns": 2, "columnPadding": 42, "rowPadding": 14, "symbolType": "stroke", "symbolSize": 1900, "symbolStrokeWidth": 3, "labelFontSize": 20, "labelOffset": 21, "labelLimit": 400, "gridAlign": "all", "padding": 0, "labelFont": "Noto Sans CJK JP", "labelColor": "#000000",
        "encode": {"symbols": {"update": {
          "strokeWidth": {"signal": "datum.value === '令和6年' ? 5 : (datum.value === '10ヶ年平均（換算水位）' ? 4 : 3)"},
          "strokeDash": {"signal": "datum.value === '10ヶ年平均（換算水位）' ? [8, 5] : [1, 0]"}}}}}},
      "strokeDash": {"field": "s", "type": "nominal",
       "scale": {"domain": ["平成27年","平成29年","令和元年","令和3年","令和5年","10ヶ年平均（換算水位）","平成28年","平成30年","令和2年","令和4年","令和6年"], "range": [[1,0],[1,0],[1,0],[1,0],[1,0],[10,6],[1,0],[1,0],[1,0],[1,0],[1,0]]},
       "legend": null}
     }
    },
    {
     "data": {"name": "wl"},
     "transform": [{"filter": "datum.s === '10ヶ年平均（換算水位）'"}],
     "mark": {"type": "line", "strokeWidth": 4, "strokeJoin": "round"},
     "encoding": {
      "color": {"field": "s", "type": "nominal",
       "scale": {"domain": ["平成27年","平成29年","令和元年","令和3年","令和5年","10ヶ年平均（換算水位）","平成28年","平成30年","令和2年","令和4年","令和6年"], "range": ["#5CFFFF","#948A54","#7030A0","#FF6600","#0000FF","#808080","#C0504D","#FF00FF","#00B0F0","#00B050","#FF0000"]}},
      "strokeDash": {"field": "s", "type": "nominal",
       "scale": {"domain": ["平成27年","平成29年","令和元年","令和3年","令和5年","10ヶ年平均（換算水位）","平成28年","平成30年","令和2年","令和4年","令和6年"], "range": [[1,0],[1,0],[1,0],[1,0],[1,0],[10,6],[1,0],[1,0],[1,0],[1,0],[1,0]]},
       "legend": null}
     }
    },
    {
     "data": {"name": "wl"},
     "transform": [{"filter": "datum.s === '令和6年'"}],
     "mark": {"type": "line", "strokeWidth": 4.5, "strokeJoin": "round"},
     "encoding": {
      "color": {"field": "s", "type": "nominal",
       "scale": {"domain": ["平成27年","平成29年","令和元年","令和3年","令和5年","10ヶ年平均（換算水位）","平成28年","平成30年","令和2年","令和4年","令和6年"], "range": ["#5CFFFF","#948A54","#7030A0","#FF6600","#0000FF","#808080","#C0504D","#FF00FF","#00B0F0","#00B050","#FF0000"]}},
      "strokeDash": {"field": "s", "type": "nominal",
       "scale": {"domain": ["平成27年","平成29年","令和元年","令和3年","令和5年","10ヶ年平均（換算水位）","平成28年","平成30年","令和2年","令和4年","令和6年"], "range": [[1,0],[1,0],[1,0],[1,0],[1,0],[10,6],[1,0],[1,0],[1,0],[1,0],[1,0]]},
       "legend": null}
     }
    },
    {
     "data": {"values": [{"m": 6.163, "m2": 12.57, "v": 359.15, "v2": 348.61}]},
     "mark": {"type": "rect", "fill": "#F2F2F2", "stroke": "#595959", "strokeWidth": 1.5},
     "encoding": {"x2": {"field": "m2"}, "y2": {"field": "v2"}}
    },
    {
     "data": {"values": [
      {"g": "a", "i": 0, "m": 2.79, "v": 384.54}, {"g": "a", "i": 1, "m": 2.596, "v": 384.54}, {"g": "a", "i": 2, "m": 2.22, "v": 379.0},
      {"g": "b", "i": 0, "m": 7.84, "v": 386.3}, {"g": "b", "i": 1, "m": 7.594, "v": 386.3}, {"g": "b", "i": 2, "m": 6.818, "v": 373.3},
      {"g": "c", "i": 0, "m": 6.558, "v": 367.01}, {"g": "c", "i": 1, "m": 6.814, "v": 367.7}, {"g": "c", "i": 2, "m": 6.915, "v": 370.0}
     ]},
     "mark": {"type": "line", "color": "#000000", "strokeWidth": 1.3},
     "encoding": {"detail": {"field": "g"}, "order": {"field": "i", "type": "quantitative"}}
    },
    {
     "data": {"values": [{"m": 2.241, "v": 379.3}]},
     "mark": {"type": "point", "shape": "triangle-up", "filled": true, "color": "#000000", "opacity": 1, "size": 110, "angle": 200}
    },
    {
     "data": {"values": [{"m": 6.836, "v": 373.6}]},
     "mark": {"type": "point", "shape": "triangle-up", "filled": true, "color": "#000000", "opacity": 1, "size": 110, "angle": 198}
    },
    {
     "data": {"values": [{"m": 6.901, "v": 369.7}]},
     "mark": {"type": "point", "shape": "triangle-up", "filled": true, "color": "#000000", "opacity": 1, "size": 110, "angle": 13}
    },
    {
     "data": {"values": [
      {"m": 1.13, "v": 391.8, "t": "洪水時最高水位 391.0m"},
      {"m": 2.84, "v": 385.04, "t": "平常時最高貯水位 380.0m"},
      {"m": 7.91, "v": 386.36, "t": "洪水貯留準備水位　373.0m"},
      {"m": 4.01, "v": 366.72, "t": "予備放流水位 370.0m"},
      {"m": 1.19, "v": 359.93, "t": "最低水位 359.0m"}
     ]},
     "mark": {"type": "text", "align": "left", "baseline": "middle", "fontSize": 25},
     "encoding": {"text": {"field": "t"}}
    },
    {
     "data": {"values": [{"m": 9.5, "v": 349.44, "t": "（日平均水位を図示）"}]},
     "mark": {"type": "text", "align": "left", "baseline": "middle", "fontSize": 20, "color": "#FF0000"},
     "encoding": {"text": {"field": "t"}}
    }
   ]
  }
 ]
}
